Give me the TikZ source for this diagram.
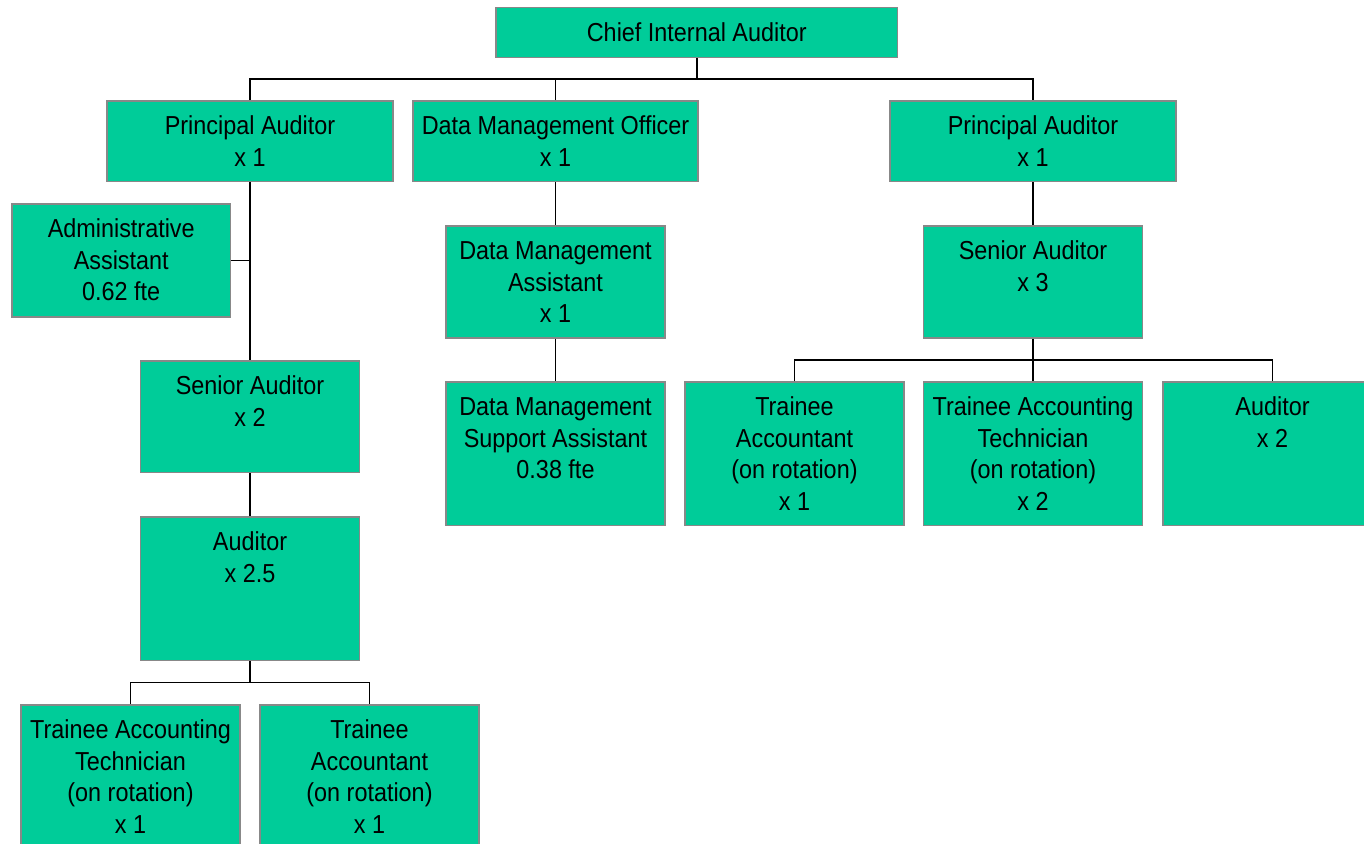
\documentclass[tikz,border=0pt]{standalone}
\usepackage{fontspec}
\setmainfont{Liberation Sans}[FakeStretch=0.9]
\definecolor{boxfill}{HTML}{00CC99}
\definecolor{boxline}{HTML}{888888}
\newcommand\fl{\rule{0pt}{34.5pt}}
\tikzset{
  orgbox/.style={draw=boxline, line width=1.6pt, fill=boxfill, rectangle, inner sep=0pt},
  orgtext/.style={anchor=north, inner sep=0pt, align=center, font=\fontsize{26}{31.4}\selectfont},
  conn/.style={draw=black, line width=1.8pt}
}
\begin{document}
\begin{tikzpicture}[x=1pt,y=-1pt]
\useasboundingbox (0,0) rectangle (1364,843);
\clip (0,0) rectangle (1364,843);
% boxes
\node[orgbox, minimum width=401.5pt, minimum height=50pt] (chief) at (696.75,32.5) {};
\node[orgbox, minimum width=286pt, minimum height=80.5pt] (pl) at (250,141.25) {};
\node[orgbox, minimum width=285pt, minimum height=80.5pt] (dmo) at (555.5,141.25) {};
\node[orgbox, minimum width=286pt, minimum height=80.5pt] (pr) at (1033,141.25) {};
\node[orgbox, minimum width=218.5pt, minimum height=113pt] (admin) at (121.25,260.5) {};
\node[orgbox, minimum width=219pt, minimum height=112pt] (dma) at (555.5,282) {};
\node[orgbox, minimum width=219pt, minimum height=112pt] (sr3) at (1033,282) {};
\node[orgbox, minimum width=219pt, minimum height=111.5pt] (sr2) at (250,416.75) {};
\node[orgbox, minimum width=219pt, minimum height=143.5pt] (dmsa) at (555.5,453.75) {};
\node[orgbox, minimum width=219pt, minimum height=143.5pt] (ta1) at (794.5,453.75) {};
\node[orgbox, minimum width=219pt, minimum height=143.5pt] (tat2) at (1033,453.75) {};
\node[orgbox, minimum width=219pt, minimum height=143.5pt] (aud2) at (1272.5,453.75) {};
\node[orgbox, minimum width=219pt, minimum height=143.5pt] (aud25) at (250,588.75) {};
\node[orgbox, minimum width=219pt, minimum height=143pt] (tat1) at (130.5,776.5) {};
\node[orgbox, minimum width=219pt, minimum height=143pt] (ta1b) at (369.5,776.5) {};
% texts
\node[orgtext] (chief-t) at (chief.north) {\fl Chief Internal Auditor};
\node[orgtext] (pl-t) at (pl.north) {\fl Principal Auditor\\x 1};
\node[orgtext] (dmo-t) at (dmo.north) {\fl Data Management Officer\\x 1};
\node[orgtext] (pr-t) at (pr.north) {\fl Principal Auditor\\x 1};
\node[orgtext] (admin-t) at (admin.north) {\fl Administrative\\Assistant\\0.62 fte};
\node[orgtext] (dma-t) at (dma.north) {\fl Data Management\\Assistant\\x 1};
\node[orgtext] (sr3-t) at (sr3.north) {\fl Senior Auditor\\x 3};
\node[orgtext] (sr2-t) at (sr2.north) {\fl Senior Auditor\\x 2};
\node[orgtext] (dmsa-t) at (dmsa.north) {\fl Data Management\\Support Assistant\\0.38 fte};
\node[orgtext] (ta1-t) at (ta1.north) {\fl Trainee\\Accountant\\(on rotation)\\x 1};
\node[orgtext] (tat2-t) at (tat2.north) {\fl Trainee Accounting\\Technician\\(on rotation)\\x 2};
\node[orgtext] (aud2-t) at (aud2.north) {\fl Auditor\\x 2};
\node[orgtext] (aud25-t) at (aud25.north) {\fl Auditor\\x 2.5};
\node[orgtext] (tat1-t) at (tat1.north) {\fl Trainee Accounting\\Technician\\(on rotation)\\x 1};
\node[orgtext] (ta1b-t) at (ta1b.north) {\fl Trainee\\Accountant\\(on rotation)\\x 1};
% bus coordinates
\coordinate (bus1) at (0,79);
\coordinate (bus2) at (0,360);
\coordinate (bus3) at (0,682.5);
% connectors
\draw[conn] (chief.south) -- (chief.south |- bus1);
\draw[conn] (pl.north) -- (pl.north |- bus1) -- (pr.north |- bus1) -- (pr.north);
\draw[conn] (dmo.north) -- (dmo.north |- bus1);
\draw[conn] (pl.south) -- (sr2.north -| pl.south);
\draw[conn] (admin.east) -- (admin.east -| pl.south);
\draw[conn] (sr2.south) -- (aud25.north);
\draw[conn] (aud25.south) -- (aud25.south |- bus3);
\draw[conn] (tat1.north) -- (tat1.north |- bus3) -- (ta1b.north |- bus3) -- (ta1b.north);
\draw[conn] (dmo.south) -- (dma.north);
\draw[conn] (dma.south) -- (dmsa.north);
\draw[conn] (pr.south) -- (sr3.north);
\draw[conn] (sr3.south) -- (sr3.south |- bus2);
\draw[conn] (ta1.north) -- (ta1.north |- bus2) -- (aud2.north |- bus2) -- (aud2.north);
\draw[conn] (tat2.north) -- (tat2.north |- bus2);
\end{tikzpicture}
\end{document}
